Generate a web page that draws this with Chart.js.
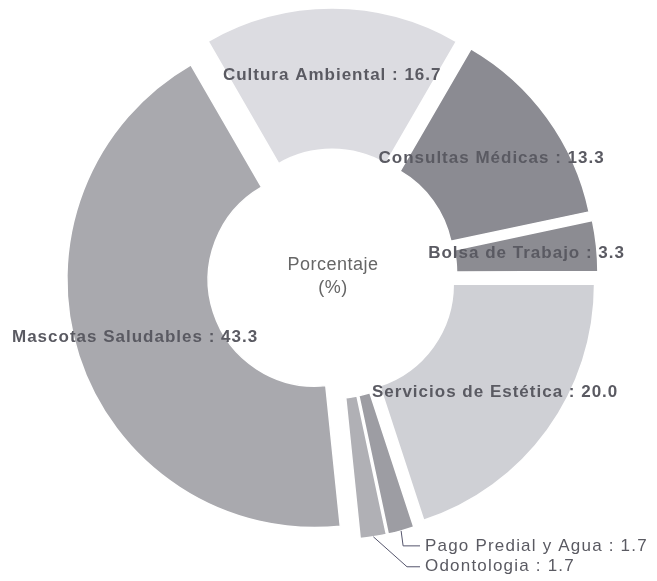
<!DOCTYPE html>
<html>
<head>
<meta charset="utf-8">
<script src="https://cdn.jsdelivr.net/npm/chart.js@4.4.1/dist/chart.umd.min.js"></script>
<style>
  html, body { margin: 0; padding: 0; background: #fff; }
  #wrap { width: 657px; height: 581px; }
</style>
</head>
<body>
<div id="wrap"><canvas id="donut" width="657" height="581"></canvas></div>
<script>
// Data (percent)
const categories = ['Cultura Ambiental', 'Consultas Médicas', 'Bolsa de Trabajo', 'Servicios de Estética', 'Pago Predial y Agua', 'Odontologia', 'Mascotas Saludables'];
const percentages = [16.7, 13.3, 3.3, 20.0, 1.7, 1.7, 43.3];

const sliceColors = ['#dcdce1', '#8b8b92', '#8c8c92', '#cfd0d5', '#9d9da3', '#b0b0b5', '#a9a9ae'];
const explodeBy = 18; // px each slice is pushed out from the centre

// where each label sits across the ring (0 = inner edge, 1 = outer edge)
const labelRing = [0.65, 0.64, 0.63, 0.67, null, null, 0.71];

const labelFont = 'bold 17px "Liberation Sans", Arial, sans-serif';
const smallFont = '17px "Liberation Sans", Arial, sans-serif';

// chart.js' own offset also grows the radius of thin slices, so shift them plainly instead
const explodePlugin = {
    id: 'explode',
    beforeDatasetsDraw(chart) {
        chart.getDatasetMeta(0).data.forEach(function (arc) {
            if (arc._exploded) return;
            const draw = arc.draw;
            arc.draw = function (ctx) {
                const mid = (this.startAngle + this.endAngle) / 2;
                ctx.save();
                ctx.translate(Math.cos(mid) * explodeBy, Math.sin(mid) * explodeBy);
                draw.call(this, ctx);
                ctx.restore();
            };
            arc._exploded = true;
        });
    }
};

const labelPlugin = {
    id: 'sliceLabels',
    afterDatasetsDraw(chart) {
        const ctx = chart.ctx;
        const arcs = chart.getDatasetMeta(0).data;
        ctx.save();
        ctx.fillStyle = '#5a5a62';
        ctx.textBaseline = 'middle';
        arcs.forEach(function (arc, i) {
            const p = arc.getProps(['x', 'y', 'startAngle', 'endAngle', 'innerRadius', 'outerRadius'], true);
            const mid = (p.startAngle + p.endAngle) / 2;
            const text = categories[i] + ' : ' + percentages[i].toFixed(1);
            if (labelRing[i] !== null) {
                const r = p.innerRadius + labelRing[i] * (p.outerRadius - p.innerRadius);
                ctx.font = labelFont;
                ctx.letterSpacing = '1px';
                ctx.textAlign = 'center';
                ctx.fillText(text, p.x + Math.cos(mid) * r, p.y + Math.sin(mid) * r);
            } else {
                // thin slices at the bottom: leader line out to the text
                const ex = p.x + Math.cos(mid) * (p.outerRadius + explodeBy);
                const ey = p.y + Math.sin(mid) * (p.outerRadius + explodeBy);
                const ty = i === 4 ? ey + 15 : ey + 30;
                const tx = 425;
                ctx.strokeStyle = '#55556c';
                ctx.lineWidth = 1;
                ctx.beginPath();
                ctx.moveTo(ex, ey);
                if (i === 4) {
                    ctx.lineTo(ex + 2, ty);
                } else {
                    ctx.lineTo(tx - 18, ty);
                }
                ctx.lineTo(tx - 5, ty);
                ctx.stroke();
                ctx.font = smallFont;
                ctx.letterSpacing = '1.2px';
                ctx.textAlign = 'left';
                ctx.fillText(text, tx, ty);
            }
        });
        // centre caption
        const c = arcs[0];
        ctx.font = '18px "Liberation Sans", Arial, sans-serif';
        ctx.letterSpacing = '0.5px';
        ctx.fillStyle = '#666';
        ctx.textAlign = 'center';
        ctx.fillText('Porcentaje', c.x + 1, c.y - 9);
        ctx.fillText('(%)', c.x + 1, c.y + 14);
        ctx.restore();
    }
};

const ctx = document.getElementById('donut').getContext('2d');
new Chart(ctx, {
    type: 'doughnut',
    data: {
        labels: categories,
        datasets: [{
            label: 'Porcentaje (%)',
            data: percentages,
            backgroundColor: sliceColors,
            borderColor: '#ffffff',
            borderWidth: 1.5,
            hoverOffset: 0
        }]
    },
    options: {
        responsive: false,
        animation: false,
        rotation: -30,
        radius: 248,
        cutout: '43%',
        layout: { padding: { left: 7, right: 0, top: 0, bottom: 33 } },
        plugins: {
            legend: { display: false },
            tooltip: { enabled: false }
        }
    },
    plugins: [explodePlugin, labelPlugin]
});
</script>
</body>
</html>
